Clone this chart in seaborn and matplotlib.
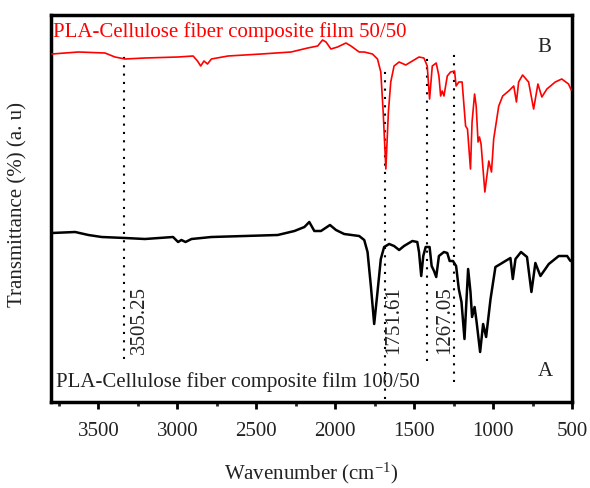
import numpy as np
import matplotlib
matplotlib.use('Agg')
import matplotlib.pyplot as plt
import seaborn as sns
from matplotlib.ticker import MultipleLocator

# FTIR spectra (wavenumber in cm-1, transmittance in arbitrary units)
wn_b = [3794, 3626, 3458, 3395, 3331, 3205, 2995, 2900, 2872, 2852, 2831, 2809, 2784,
        2679, 2468, 2279, 2174, 2111, 2080, 2058, 2027, 1985, 1932, 1900, 1848, 1816,
        1764, 1732, 1711, 1696, 1679, 1663, 1648, 1627, 1595, 1553, 1511, 1469, 1438,
        1417, 1402, 1385, 1360, 1343, 1332, 1322, 1311, 1290, 1269, 1244, 1234, 1217,
        1196, 1174, 1162, 1143, 1133, 1117, 1107, 1095, 1086, 1076, 1052, 1027, 1010,
        996, 964, 939, 901, 869, 852, 838, 813, 775, 743, 716, 691, 659, 606, 565, 522, 505]
tr_b = [348, 350, 349, 345, 343, 344, 345, 346, 341, 336, 341, 338, 343,
        346, 348, 350, 354, 356, 362, 360, 353, 355, 359, 356, 350, 350,
        348, 343, 330, 290, 233, 290, 320, 336, 340, 337, 341, 345, 344,
        336, 303, 336, 339, 326, 306, 311, 306, 326, 330, 331, 316, 320,
        320, 276, 273, 233, 280, 308, 296, 260, 265, 258, 210, 241, 230,
        263, 296, 306, 311, 316, 300, 320, 327, 320, 293, 318, 305, 313, 320, 323, 318, 312]

wn_a = [3794, 3647, 3563, 3479, 3331, 3205, 3027, 2995, 2974, 2948, 2910, 2784, 2574,
        2364, 2258, 2195, 2164, 2132, 2090, 2033, 1995, 1943, 1848, 1816, 1795, 1774,
        1753, 1732, 1711, 1690, 1658, 1627, 1595, 1564, 1511, 1480, 1469, 1455, 1442,
        1427, 1402, 1389, 1374, 1360, 1343, 1311, 1290, 1275, 1254, 1234, 1217, 1200,
        1181, 1168, 1158, 1143, 1133, 1117, 1105, 1082, 1063, 1044, 1016, 985, 953,
        922, 890, 875, 858, 823, 785, 757, 732, 700, 647, 584, 531, 510]
tr_a = [169, 170, 167, 165, 164, 163, 165, 160, 162, 160, 163, 165, 166,
        167, 171, 175, 180, 171, 171, 177, 172, 168, 166, 162, 150, 116,
        78, 110, 143, 155, 158, 156, 152, 156, 161, 160, 150, 126, 146,
        155, 155, 136, 131, 125, 146, 150, 149, 141, 141, 136, 113, 100,
        63, 103, 133, 110, 85, 95, 81, 50, 78, 65, 103, 135, 138,
        141, 144, 123, 143, 150, 145, 110, 139, 126, 138, 146, 146, 141]

# marked bands: x position, top and bottom of dotted line, label
mark_wn = [3336, 1684, 1420, 1248]
mark_top = [348, 335, 349, 349]
mark_bot = [43, 3, 41, 20]
label_txt = ['3505.25', '1751.61', '1267.05']
label_wn = [3237, 1627, 1305]

sns.set_style('ticks')
plt.rcParams['font.family'] = ['Liberation Serif', 'DejaVu Serif']
plt.rcParams['mathtext.fontset'] = 'stix'

fig = plt.figure(figsize=(5.9, 4.89), dpi=100)
ax = fig.add_axes([51/590, 1-403/489, 521/590, 387/489])

for x, t, b in zip(mark_wn, mark_top, mark_bot):
    ax.plot([x, x], [b, t], color='black', linestyle=(0, (1, 3)), linewidth=1.5, zorder=1)

sns.lineplot(x=wn_b, y=tr_b, color='#ff0000', linewidth=1.2, estimator=None, ax=ax, zorder=3)
sns.lineplot(x=wn_a, y=tr_a, color='black', linewidth=1.8, estimator=None, ax=ax, zorder=3)

for t, x in zip(label_txt, label_wn):
    ax.text(x, 83, t, rotation=90, ha='center', va='center', fontsize=15, color='#222222')

ax.text(3786, 366, 'PLA-Cellulose fiber composite film 50/50', color='#ff0000', fontsize=15,
        ha='left', va='baseline')
ax.text(3767, 16, 'PLA-Cellulose fiber composite film 100/50', color='#222222', fontsize=15,
        ha='left', va='baseline')
ax.text(674, 351, 'B', color='#222222', fontsize=15, ha='center', va='baseline')
ax.text(668, 27, 'A', color='#222222', fontsize=15, ha='center', va='baseline')

ax.set_xlim(3800, 500)
ax.set_ylim(0, 387)
ax.set_yticks([])
ax.xaxis.set_major_locator(MultipleLocator(500))
ax.xaxis.set_minor_locator(MultipleLocator(250))
ax.tick_params(axis='x', which='major', direction='out', length=5, width=2, labelsize=15,
               pad=9, colors='black', labelcolor='#222222')
ax.tick_params(axis='x', which='minor', direction='out', length=3, width=2)
for s in ax.spines.values():
    s.set_linewidth(2.5)
    s.set_color('black')

ax.set_xlabel(r'Wavenumber (cm$^{\mathregular{-1}}$)', fontsize=15, color='#222222')
ax.set_ylabel('Transmittance (%) (a. u)', fontsize=15, color='#222222')
ax.xaxis.set_label_coords(0.5, -0.15)
ax.yaxis.set_label_coords(-0.046, 0.514)

fig.savefig('out.png', dpi=100)
plt.close()
